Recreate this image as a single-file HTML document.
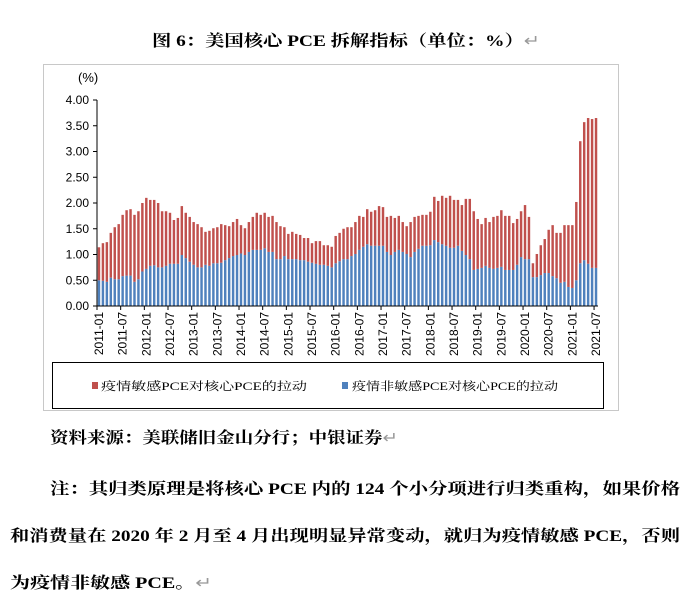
<!DOCTYPE html>
<html><head><meta charset="utf-8">
<style>
body{margin:0;background:#fff;}
svg{display:block;font-family:"Liberation Serif","Noto Serif CJK SC",serif;}
</style></head>
<body>
<svg id="root" width="691" height="603" viewBox="0 0 691 603">
<text x="152" y="46" font-size="16" font-weight="bold" textLength="388" lengthAdjust="spacingAndGlyphs">图 6：美国核心 PCE 拆解指标（单位：%）<tspan fill="#999" font-weight="normal">↵</tspan></text>
<rect x="43.5" y="64.5" width="575" height="346" fill="none" stroke="#c8c8c8"/>
<text x="78" y="82" font-size="13" font-family="Liberation Sans, Noto Sans CJK SC, sans-serif">(%)</text>
<g id="yaxis"></g>
<g id="bars"></g>
<g id="xaxis"></g>
<rect x="52.5" y="362.5" width="551" height="46" fill="#fff" stroke="#000"/>
<g>
<rect x="92" y="382" width="6" height="7" fill="#c0504d"/>
<text x="101" y="390" font-size="11.5" textLength="206" lengthAdjust="spacingAndGlyphs">疫情敏感PCE对核心PCE的拉动</text>
</g>
<g>
<rect x="342" y="382" width="6" height="7" fill="#4f81bd"/>
<text x="352" y="390" font-size="11.5" textLength="206" lengthAdjust="spacingAndGlyphs">疫情非敏感PCE对核心PCE的拉动</text>
</g>
<text x="50" y="443" font-size="16" font-weight="bold" textLength="348" lengthAdjust="spacingAndGlyphs">资料来源：美联储旧金山分行；中银证券<tspan fill="#999" font-weight="normal">↵</tspan></text>
<text x="50" y="494" font-size="16" font-weight="bold" textLength="630" lengthAdjust="spacingAndGlyphs">注：其归类原理是将核心 PCE 内的 124 个小分项进行归类重构，如果价格</text>
<text x="10" y="541" font-size="16" font-weight="bold" textLength="670" lengthAdjust="spacingAndGlyphs">和消费量在 2020 年 2 月至 4 月出现明显异常变动，就归为疫情敏感 PCE，否则</text>
<text x="10" y="588" font-size="16" font-weight="bold" textLength="202" lengthAdjust="spacingAndGlyphs">为疫情非敏感 PCE。<tspan fill="#999" font-weight="normal">↵</tspan></text>
</svg>
<script>
const totals=[1.14,1.22,1.24,1.42,1.53,1.59,1.77,1.86,1.88,1.77,1.84,2.00,2.10,2.06,2.06,2.00,1.84,1.84,1.81,1.67,1.71,1.94,1.81,1.73,1.63,1.59,1.53,1.44,1.46,1.51,1.53,1.59,1.57,1.55,1.63,1.69,1.57,1.51,1.63,1.73,1.81,1.77,1.81,1.73,1.75,1.63,1.55,1.53,1.40,1.44,1.40,1.38,1.32,1.32,1.22,1.26,1.26,1.18,1.18,1.15,1.36,
1.42,1.50,1.53,1.53,1.63,1.75,1.73,1.88,1.83,1.86,1.94,1.92,1.73,1.75,1.71,1.75,1.63,1.55,1.63,1.73,1.75,1.77,1.77,1.83,2.12,2.04,2.14,2.10,2.14,2.06,2.06,1.96,2.08,2.08,1.84,1.69,1.59,1.71,1.63,1.73,1.75,1.86,1.75,1.75,1.61,1.69,1.84,1.96,1.73,0.83,1.01,1.18,1.30,1.48,1.57,1.42,1.42,1.57,1.57,1.57,2.02,3.20,3.57,3.65,3.63,3.65];
const blues=[0.50,0.49,0.47,0.55,0.52,0.52,0.58,0.59,0.59,0.47,0.52,0.67,0.72,0.78,0.79,0.75,0.75,0.78,0.82,0.82,0.82,0.99,0.93,0.86,0.80,0.75,0.75,0.80,0.78,0.83,0.83,0.84,0.89,0.93,0.97,0.99,1.02,0.99,1.05,1.09,1.09,1.09,1.12,1.05,1.05,0.91,0.91,0.97,0.91,0.91,0.91,0.89,0.89,0.86,0.84,0.82,0.80,0.80,0.78,0.75,0.83,
0.87,0.91,0.91,0.97,1.01,1.09,1.15,1.20,1.17,1.17,1.17,1.17,1.05,0.99,1.05,1.09,1.05,1.01,0.95,1.05,1.11,1.17,1.17,1.18,1.28,1.24,1.20,1.17,1.13,1.13,1.17,1.07,0.99,0.91,0.70,0.72,0.74,0.78,0.74,0.72,0.74,0.76,0.70,0.70,0.70,0.80,0.95,0.91,0.91,0.56,0.56,0.60,0.64,0.64,0.58,0.54,0.45,0.47,0.37,0.35,0.50,0.83,0.89,0.82,0.74,0.74];
const yTicks=[0,0.5,1,1.5,2,2.5,3,3.5,4];
const NS="http://www.w3.org/2000/svg";
const x0=97,x1=598,y0=306,yTop=100;
const n=totals.length,band=(x1-x0)/n;
const yS=v=>y0-(v/4)*(y0-yTop);
const xS=i=>x0+i*band;
function mk(tag,attrs,parent){const e=document.createElementNS(NS,tag);for(const k in attrs)e.setAttribute(k,attrs[k]);parent.appendChild(e);return e;}
const ya=document.getElementById('yaxis'),bg=document.getElementById('bars'),xa=document.getElementById('xaxis');
let l=mk('line',{x1:x0,y1:yTop,x2:x0,y2:y0,stroke:'#000'},ya);


yTicks.forEach(v=>{
 const t=mk('line',{x1:x0-4,x2:x0,y1:yS(v),y2:yS(v),stroke:'#000'},ya);
 
 
 const tx=mk('text',{x:x0-8,y:yS(v)+4,'font-size':12,'text-anchor':'end','font-family':'Liberation Sans, sans-serif'},ya);
 tx.textContent=v.toFixed(2);
 
 
});
const bw=band*0.62;
for(let i=0;i<n;i++){
 const xb=xS(i)+(band-bw)/2;
 const b=mk('rect',{x:xb,y:yS(blues[i]),width:bw,height:y0-yS(blues[i]),fill:'#4f81bd'},bg);
 
 
 const r=mk('rect',{x:xb,y:yS(totals[i]),width:bw,height:yS(blues[i])-yS(totals[i]),fill:'#c0504d'},bg);
 
 
}
l=mk('line',{x1:x0,y1:y0,x2:x1,y2:y0,stroke:'#000'},xa);


for(let i=0;i<n;i+=6){
 const yr=2011+Math.floor(i/12),mo=(i%12)+1;
 const lab=yr+'-'+(mo<10?'0':'')+mo;
 const tk=mk('line',{x1:xS(i),x2:xS(i),y1:y0,y2:y0+4,stroke:'#000'},xa);
 
 
 const cx=xS(i)+band/2+4;
 const t=mk('text',{x:cx,y:y0+6,'font-size':12,'text-anchor':'end','font-family':'Liberation Sans, sans-serif',transform:`rotate(-90 ${cx} ${y0+6})`},xa);
 t.textContent=lab;
 
 
}
</script>
</body></html>
